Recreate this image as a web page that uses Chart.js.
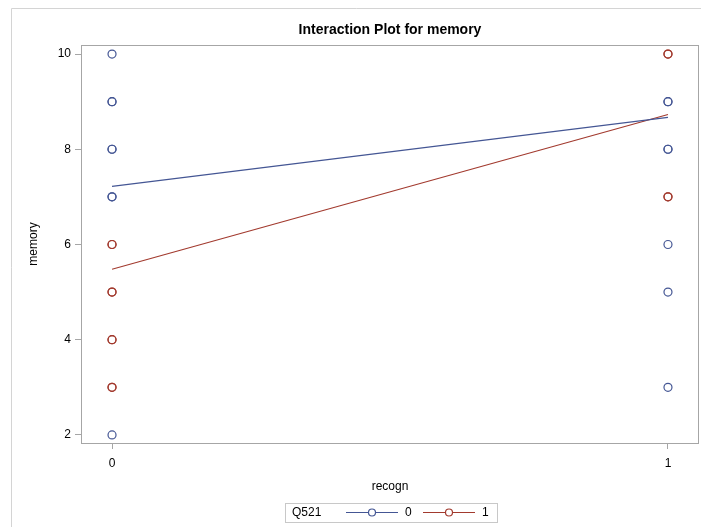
<!DOCTYPE html>
<html>
<head>
<meta charset="utf-8">
<script src="https://cdn.jsdelivr.net/npm/chart.js@4.4.1/dist/chart.umd.min.js"></script>
<style>
  html, body { margin: 0; padding: 0; background: #fff; }
  #wrap { width: 701px; height: 527px; position: relative; }
</style>
</head>
<body>
<div id="wrap"><canvas id="c" width="701" height="527"></canvas></div>
<script>
// Observed memory scores, one entry per subject, split by Q521 group and recogn level
const memoryQ0AtRecogn0 = [10, 9, 9, 8, 8, 7, 7, 2];
const memoryQ0AtRecogn1 = [9, 9, 8, 8, 6, 5, 3];
const memoryQ1AtRecogn0 = [6, 6, 5, 5, 4, 4, 3, 3];
const memoryQ1AtRecogn1 = [10, 10, 7, 7];

// Cell means of memory at recogn = 0 and recogn = 1
const recognLevels = [0, 1];
const meanQ0 = [7.22, 8.67];
const meanQ1 = [5.48, 8.73];

// Axis ticks and legend entries
const xTicks = [0, 1];
const yTicks = [2, 4, 6, 8, 10];
const groupLabels = ['0', '1'];
const legendTitle = 'Q521';

const BLUE = '#445694';
const RED = '#A23A2E';
const AXIS = '#a6a6a6';
const FONT = '"Liberation Sans", Arial, sans-serif';

function toPoints(x, values) { return values.map(v => ({ x: x, y: v })); }
function meanLine(means) { return recognLevels.map((x, i) => ({ x: x, y: means[i] })); }

const pointStyle = {
  showLine: false, pointRadius: 4, pointHoverRadius: 4,
  pointBorderWidth: 1.2, pointBackgroundColor: 'rgba(0,0,0,0)'
};

const decorations = {
  id: 'decorations',
  beforeDraw(chart) {
    const ctx = chart.ctx;
    ctx.save();
    ctx.fillStyle = '#fff';
    ctx.fillRect(0, 0, chart.width, chart.height);
    // outer frame of the graph
    ctx.strokeStyle = '#d4d4d4';
    ctx.lineWidth = 1;
    ctx.beginPath();
    ctx.moveTo(11.5, chart.height);
    ctx.lineTo(11.5, 8.5);
    ctx.lineTo(chart.width, 8.5);
    ctx.stroke();
    ctx.restore();
  },
  afterDraw(chart) {
    const ctx = chart.ctx;
    const a = chart.chartArea;
    ctx.save();
    // plot frame
    ctx.strokeStyle = AXIS;
    ctx.lineWidth = 1;
    const l = Math.round(a.left), t = Math.round(a.top);
    const r = Math.round(a.right), b = Math.round(a.bottom);
    ctx.strokeRect(l + 0.5, t + 0.5, r - l - 1, b - t);

    // title
    ctx.fillStyle = '#000';
    ctx.font = 'bold 14px ' + FONT;
    ctx.textAlign = 'center';
    ctx.textBaseline = 'middle';
    ctx.fillText('Interaction Plot for memory', (a.left + a.right) / 2, 30.5);

    // legend
    const cy = 512;
    const bx = 285, by = 503, bw = 212, bh = 19;
    ctx.strokeStyle = '#c8c8c8';
    ctx.strokeRect(bx + 0.5, by + 0.5, bw, bh);
    ctx.font = '12px ' + FONT;
    ctx.textAlign = 'left';
    ctx.fillStyle = '#000';
    ctx.fillText(legendTitle, bx + 7, cy + 0.5);
    const entries = [
      { color: BLUE, x0: 346, label: groupLabels[0] },
      { color: RED, x0: 423, label: groupLabels[1] }
    ];
    entries.forEach(e => {
      ctx.strokeStyle = e.color;
      ctx.lineWidth = 1.2;
      ctx.beginPath();
      ctx.moveTo(e.x0, cy + 0.5);
      ctx.lineTo(e.x0 + 52, cy + 0.5);
      ctx.stroke();
      ctx.fillStyle = '#fff';
      ctx.beginPath();
      ctx.arc(e.x0 + 26, cy + 0.5, 3.5, 0, Math.PI * 2);
      ctx.fill();
      ctx.stroke();
      ctx.fillStyle = '#000';
      ctx.fillText(e.label, e.x0 + 59, cy + 0.5);
    });
    ctx.restore();
  }
};

new Chart(document.getElementById('c'), {
  type: 'scatter',
  data: {
    datasets: [
      Object.assign({ label: 'Q521=0', data: toPoints(0, memoryQ0AtRecogn0).concat(toPoints(1, memoryQ0AtRecogn1)),
        borderColor: BLUE, pointBorderColor: BLUE }, pointStyle),
      Object.assign({ label: 'Q521=1', data: toPoints(0, memoryQ1AtRecogn0).concat(toPoints(1, memoryQ1AtRecogn1)),
        borderColor: RED, pointBorderColor: RED }, pointStyle),
      { label: 'mean 0', data: meanLine(meanQ0), showLine: true, borderColor: BLUE, borderWidth: 1.2,
        pointRadius: 0, fill: false },
      { label: 'mean 1', data: meanLine(meanQ1), showLine: true, borderColor: RED, borderWidth: 1.2,
        pointRadius: 0, fill: false }
    ]
  },
  options: {
    responsive: false,
    animation: false,
    events: [],
    layout: { autoPadding: false, padding: { left: 0, top: 45, right: 2, bottom: 0 } },
    plugins: { legend: { display: false }, title: { display: false }, tooltip: { enabled: false } },
    scales: {
      x: {
        type: 'linear',
        min: -0.0558, max: 1.0558,
        afterBuildTicks(scale) { scale.ticks = xTicks.map(v => ({ value: v })); },
        afterFit(scale) { scale.height = 84; scale.paddingLeft = 0; scale.paddingRight = 0; },
        grid: { display: true, drawOnChartArea: false, drawTicks: true, tickLength: 6, color: AXIS },
        border: { display: false },
        ticks: { color: '#000', padding: 7, font: { family: FONT, size: 12 }, maxRotation: 0 },
        title: { display: true, text: 'recogn', color: '#000', font: { family: FONT, size: 12 },
                 padding: { top: 0, bottom: 33 } }
      },
      y: {
        type: 'linear',
        min: 1.83, max: 10.19,
        afterBuildTicks(scale) { scale.ticks = yTicks.map(v => ({ value: v })); },
        afterFit(scale) { scale.width = 81; scale.paddingTop = 0; scale.paddingBottom = 0; },
        grid: { display: true, drawOnChartArea: false, drawTicks: true, tickLength: 6, color: AXIS },
        border: { display: false },
        ticks: { color: '#000', padding: 4, font: { family: FONT, size: 12 } },
        title: { display: true, text: 'memory', color: '#000', font: { family: FONT, size: 12 },
                 padding: { top: 26, bottom: 0 } }
      }
    }
  },
  plugins: [decorations]
});
</script>
</body>
</html>
